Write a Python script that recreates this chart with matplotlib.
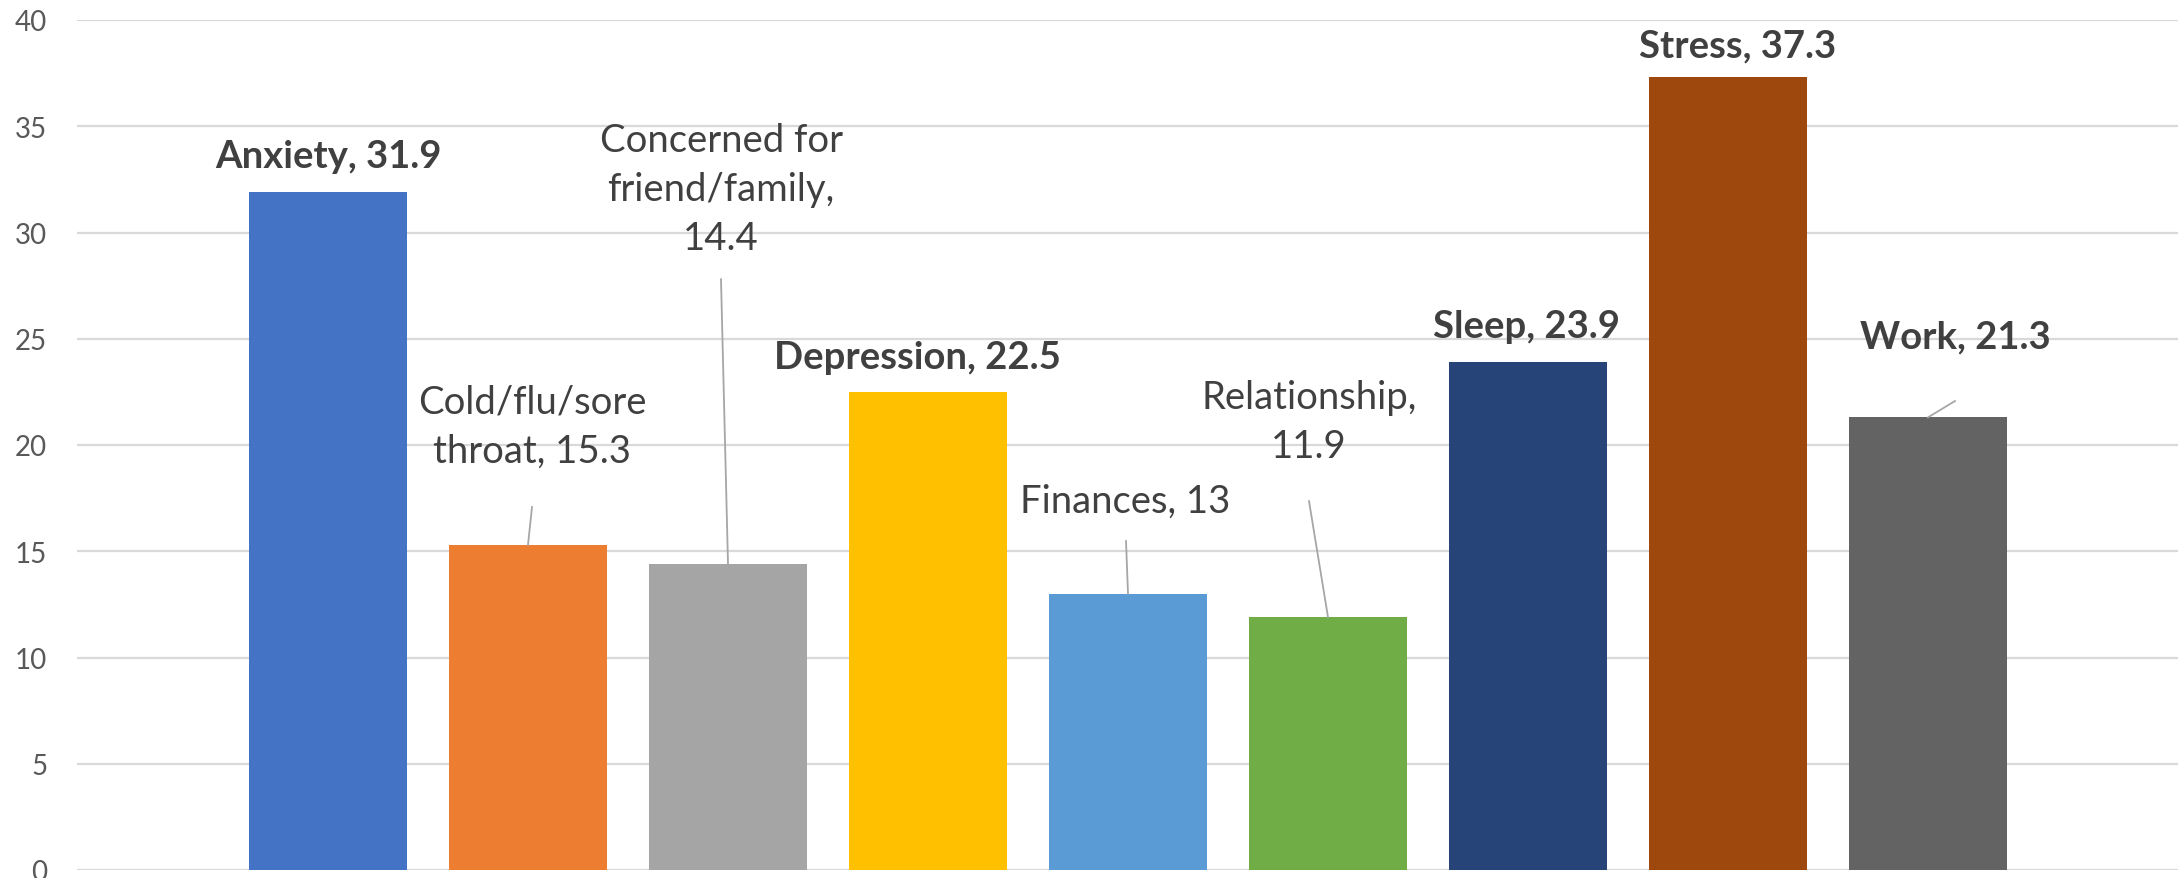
import numpy as np
import matplotlib
matplotlib.use("Agg")
import matplotlib.pyplot as plt

# Reported concerns (percent of respondents)
categories = ["Anxiety", "Cold/flu/sore throat", "Concerned for friend/family", "Depression",
              "Finances", "Relationship", "Sleep", "Stress", "Work"]
values = [31.9, 15.3, 14.4, 22.5, 13.0, 11.9, 23.9, 37.3, 21.3]
label_text = ["Anxiety, 31.9", "Cold/flu/sore\nthroat, 15.3", "Concerned for\nfriend/family,\n14.4",
              "Depression, 22.5", "Finances, 13", "Relationship,\n11.9", "Sleep, 23.9",
              "Stress, 37.3", "Work, 21.3"]
bold = [True, False, False, True, False, False, True, True, True]
colors = ["#4472C4", "#ED7D31", "#A5A5A5", "#FFC000", "#5B9BD5",
          "#70AD47", "#264478", "#9E480E", "#636363"]

# label placement: centre offset from bar (dx in bar slots, y absolute)
label_pos = [(0.0, 33.6), (0.02, 20.9), (-0.035, 32.05), (-0.055, 24.15), (-0.015, 17.36),
             (-0.095, 21.1), (-0.01, 25.6), (0.05, 38.78), (0.135, 25.13)]
# leader line start points for labels that sit away from their bar (dx, y)
leaders = {1: (0.02, 17.08), 2: (-0.035, 27.8), 4: (-0.01, 15.48),
           5: (-0.095, 17.36), 8: (0.135, 22.07)}

plt.rcParams['font.family'] = ['Lato', 'DejaVu Sans']

fig = plt.figure(figsize=(21.78, 8.79), dpi=100)
ax = fig.add_axes([77 / 2178, 8 / 879, 1 - 77 / 2178, (871 - 21) / 879])

x = np.arange(len(values))
ax.bar(x, values, width=0.79, color=colors, zorder=2)

ax.set_xlim(-1.255, 9.25)
ax.set_ylim(0, 40)
ax.set_yticks(np.arange(0, 41, 5))
ax.yaxis.grid(True, color="#D9D9D9", linewidth=1.6, zorder=0)
ax.set_xticks([])
for s in ax.spines.values():
    s.set_visible(False)
ax.tick_params(axis="y", length=0, pad=21.5, labelsize=20, labelcolor="#595959")

for i, v in enumerate(values):
    dx, ly = label_pos[i]
    ax.text(i + dx, ly, label_text[i], ha="center", va="center", fontsize=27.5,
            fontweight="bold" if bold[i] else "normal", color="#404040",
            linespacing=1.45, zorder=3)
    if i in leaders:
        sx, sy = leaders[i]
        ax.plot([i + sx, i], [sy, v], color="#A6A6A6", linewidth=1.3, zorder=3)

fig.savefig("out.png", dpi=100, facecolor="white")
